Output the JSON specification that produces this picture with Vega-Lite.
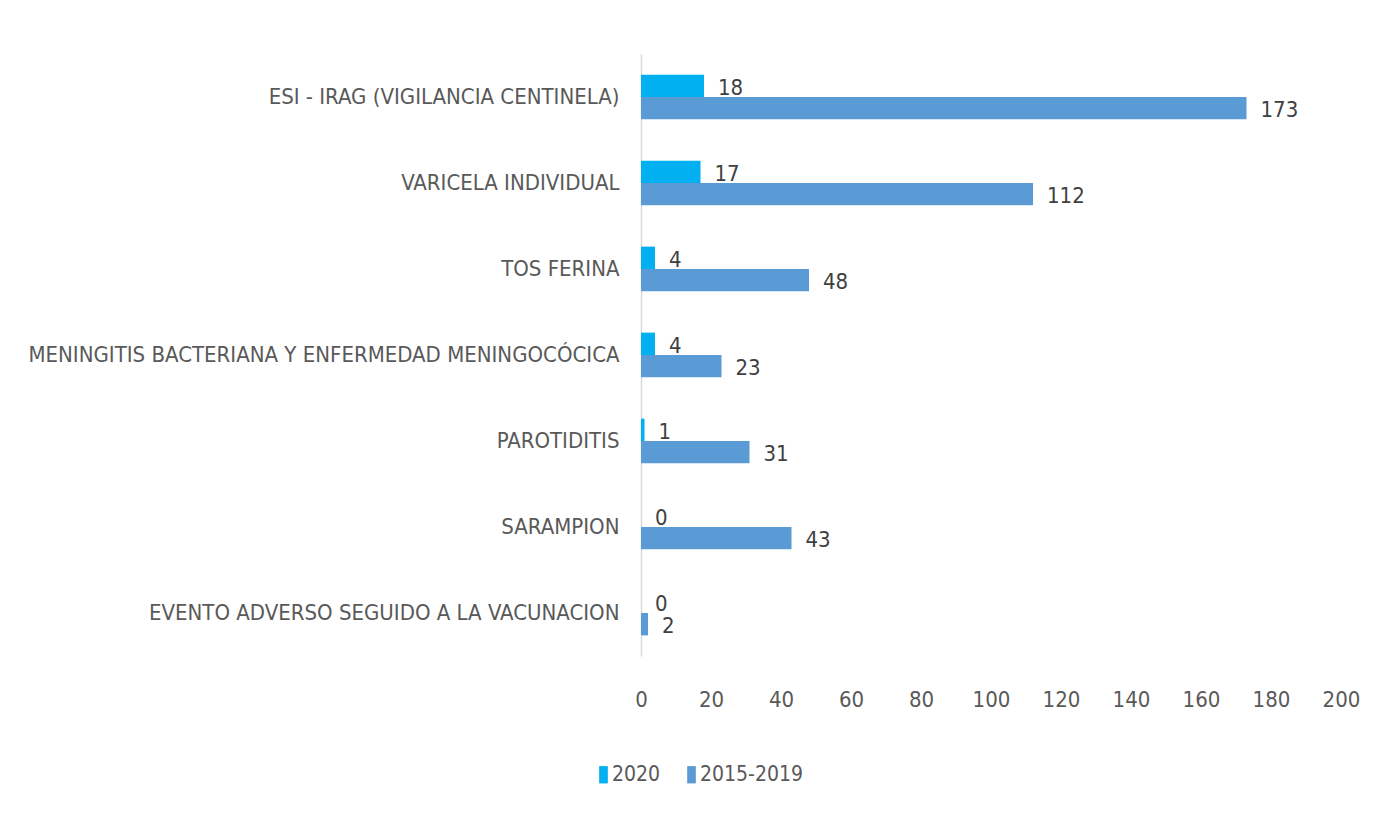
{
  "$schema": "https://vega.github.io/schema/vega-lite/v6.json",
  "autosize": {"type": "none"},
  "width": 700,
  "height": 602,
  "padding": {"left": 641, "top": 54, "right": 37, "bottom": 169},
  "background": "white",
  "config": {
    "view": {"stroke": null},
    "font": "DejaVu Sans Condensed, Roboto, sans-serif",
    "text": {"font": "DejaVu Sans Condensed, Roboto, sans-serif"}
  },
  "data": {
    "values": [
      {"evento": "ESI - IRAG (VIGILANCIA CENTINELA)", "serie": "2020", "casos": 18},
      {"evento": "ESI - IRAG (VIGILANCIA CENTINELA)", "serie": "2015-2019", "casos": 173},
      {"evento": "VARICELA INDIVIDUAL", "serie": "2020", "casos": 17},
      {"evento": "VARICELA INDIVIDUAL", "serie": "2015-2019", "casos": 112},
      {"evento": "TOS FERINA", "serie": "2020", "casos": 4},
      {"evento": "TOS FERINA", "serie": "2015-2019", "casos": 48},
      {"evento": "MENINGITIS BACTERIANA Y ENFERMEDAD MENINGOCÓCICA", "serie": "2020", "casos": 4},
      {"evento": "MENINGITIS BACTERIANA Y ENFERMEDAD MENINGOCÓCICA", "serie": "2015-2019", "casos": 23},
      {"evento": "PAROTIDITIS", "serie": "2020", "casos": 1},
      {"evento": "PAROTIDITIS", "serie": "2015-2019", "casos": 31},
      {"evento": "SARAMPION", "serie": "2020", "casos": 0},
      {"evento": "SARAMPION", "serie": "2015-2019", "casos": 43},
      {"evento": "EVENTO ADVERSO SEGUIDO A LA VACUNACION", "serie": "2020", "casos": 0},
      {"evento": "EVENTO ADVERSO SEGUIDO A LA VACUNACION", "serie": "2015-2019", "casos": 2}
    ]
  },
  "encoding": {
    "y": {
      "field": "evento",
      "type": "nominal",
      "sort": null,
      "scale": {"paddingInner": 0.48, "paddingOuter": 0.24},
      "axis": {
        "title": null,
        "ticks": false,
        "domain": true,
        "domainColor": "#D9D9D9",
        "domainWidth": 1.5,
        "labelFontSize": 22,
        "labelColor": "#595959",
        "labelPadding": 22,
        "labelLimit": 700
      }
    },
    "yOffset": {
      "field": "serie",
      "type": "nominal",
      "scale": {"domain": ["2020", "2015-2019"], "paddingInner": 0}
    },
    "x": {
      "field": "casos",
      "type": "quantitative",
      "scale": {"domain": [0, 200], "nice": false},
      "axis": {
        "title": null,
        "values": [0, 20, 40, 60, 80, 100, 120, 140, 160, 180, 200],
        "grid": false,
        "ticks": false,
        "domain": false,
        "labelFontSize": 22,
        "labelColor": "#595959",
        "labelPadding": 33,
        "labelFlush": false
      }
    }
  },
  "layer": [
    {
      "mark": {"type": "bar"},
      "encoding": {
        "color": {
          "field": "serie",
          "type": "nominal",
          "scale": {"domain": ["2020", "2015-2019"], "range": ["#00B0F0", "#5B9BD5"]},
          "legend": {
            "title": null,
            "orient": "none",
            "direction": "horizontal",
            "legendX": -48,
            "legendY": 710,
            "symbolType": "M-0.5,-1h1v2h-1z",
            "symbolSize": 300,
            "symbolStrokeWidth": 0,
            "labelFontSize": 21,
            "labelColor": "#595959",
            "labelOffset": -2,
            "columnPadding": 20
          }
        }
      }
    },
    {
      "mark": {"type": "text", "align": "left", "baseline": "middle", "dx": 14, "dy": 2, "fontSize": 22, "color": "#404040"},
      "encoding": {
        "text": {"field": "casos", "type": "quantitative"}
      }
    }
  ]
}
